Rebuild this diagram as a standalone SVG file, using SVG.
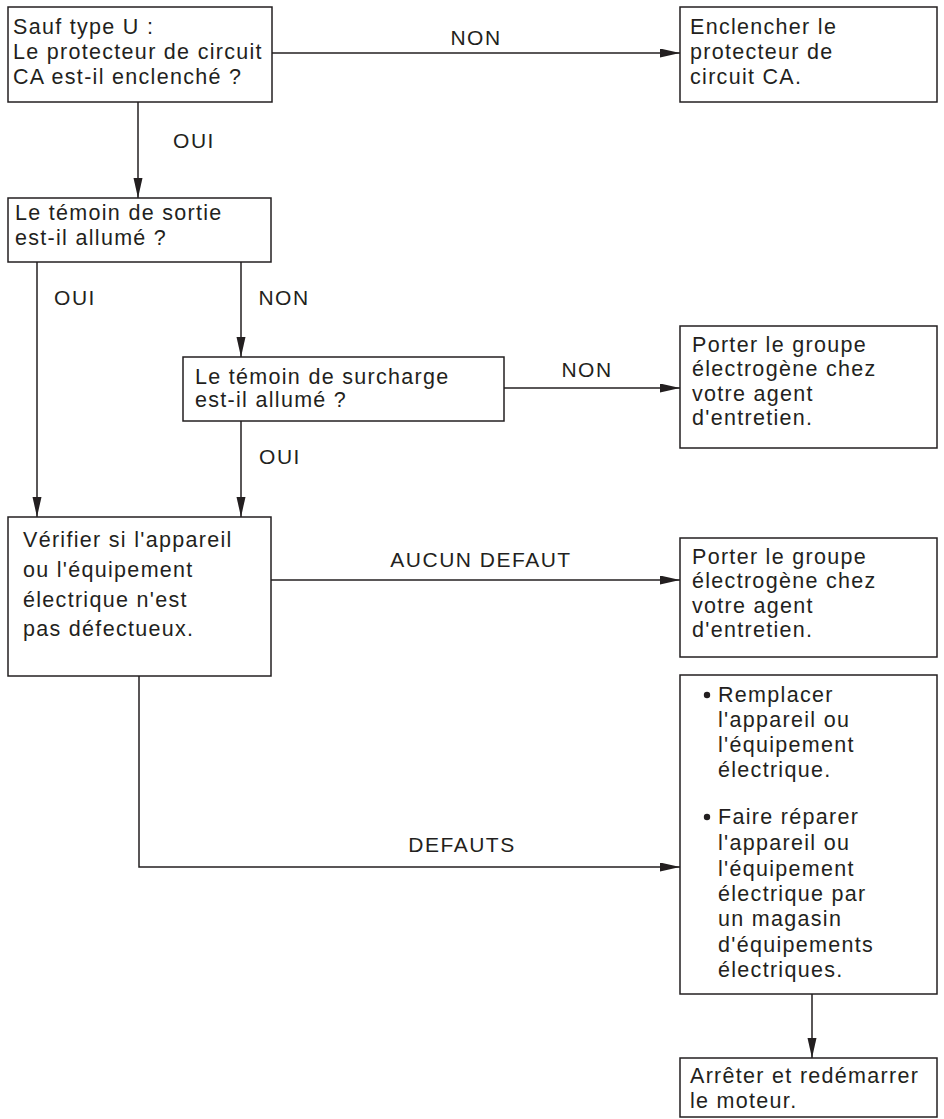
<svg xmlns="http://www.w3.org/2000/svg" width="944" height="1119" viewBox="0 0 944 1119">
<style>
  .box { fill: #ffffff; stroke: #231f20; stroke-width: 1.5; }
  .t { font-family: "Liberation Sans", Arial, sans-serif; font-size: 21.5px; letter-spacing: 1.3px; fill: #231f20; }
  .lbl { font-family: "Liberation Sans", Arial, sans-serif; font-size: 21px; letter-spacing: 1.5px; fill: #231f20; text-anchor: middle; }
  .c { fill: none; stroke: #231f20; stroke-width: 1.5; }
</style>
<defs>
  <marker id="ah" markerUnits="userSpaceOnUse" markerWidth="22" markerHeight="10" refX="20" refY="4.5" orient="auto">
    <path d="M0,0 L20,4.5 L0,9 z" fill="#231f20"/>
  </marker>
</defs>
<rect width="944" height="1119" fill="#ffffff"/>

<g id="connectors">
  <line class="c" x1="272" y1="53" x2="680" y2="53" marker-end="url(#ah)"/>
  <line class="c" x1="138" y1="102" x2="138" y2="198" marker-end="url(#ah)"/>
  <line class="c" x1="37" y1="262" x2="37" y2="517" marker-end="url(#ah)"/>
  <line class="c" x1="241" y1="262" x2="241" y2="357" marker-end="url(#ah)"/>
  <line class="c" x1="504" y1="388" x2="680" y2="388" marker-end="url(#ah)"/>
  <line class="c" x1="241" y1="421" x2="241" y2="517" marker-end="url(#ah)"/>
  <line class="c" x1="271" y1="580" x2="680" y2="580" marker-end="url(#ah)"/>
  <polyline class="c" points="139,676 139,867 680,867" marker-end="url(#ah)"/>
  <line class="c" x1="812" y1="994" x2="812" y2="1058" marker-end="url(#ah)"/>
  <text class="lbl" x="476" y="45">NON</text>
  <text class="lbl" x="194" y="148">OUI</text>
  <text class="lbl" x="75" y="305">OUI</text>
  <text class="lbl" x="284" y="305">NON</text>
  <text class="lbl" x="587" y="377">NON</text>
  <text class="lbl" x="280" y="464">OUI</text>
  <text class="lbl" x="481" y="567">AUCUN DEFAUT</text>
  <text class="lbl" x="462" y="852">DEFAUTS</text>
</g>

<g id="q-protecteur">
  <rect class="box" x="8" y="7" width="264" height="95"/>
  <text class="t" x="13" y="34">Sauf type U :</text>
  <text class="t" x="13" y="59">Le protecteur de circuit</text>
  <text class="t" x="13" y="84">CA est-il enclenché ?</text>
</g>

<g id="a-enclencher">
  <rect class="box" x="680" y="7" width="257" height="95"/>
  <text class="t" x="690" y="34">Enclencher le</text>
  <text class="t" x="690" y="59">protecteur de</text>
  <text class="t" x="690" y="84">circuit CA.</text>
</g>

<g id="q-sortie">
  <rect class="box" x="8" y="198" width="263" height="64"/>
  <text class="t" x="15" y="220">Le témoin de sortie</text>
  <text class="t" x="15" y="245">est-il allumé ?</text>
</g>

<g id="q-surcharge">
  <rect class="box" x="183" y="357" width="321" height="64"/>
  <text class="t" x="195" y="384">Le témoin de surcharge</text>
  <text class="t" x="195" y="407">est-il allumé ?</text>
</g>

<g id="a-agent-1">
  <rect class="box" x="680" y="326" width="257" height="122"/>
  <text class="t" x="692" y="352">Porter le groupe</text>
  <text class="t" x="692" y="376">électrogène chez</text>
  <text class="t" x="692" y="401">votre agent</text>
  <text class="t" x="692" y="425">d'entretien.</text>
</g>

<g id="q-verifier">
  <rect class="box" x="8" y="517" width="263" height="159"/>
  <text class="t" x="23" y="547">Vérifier si l'appareil</text>
  <text class="t" x="23" y="577">ou l'équipement</text>
  <text class="t" x="23" y="607">électrique n'est</text>
  <text class="t" x="23" y="636">pas défectueux.</text>
</g>

<g id="a-agent-2">
  <rect class="box" x="680" y="538" width="257" height="119"/>
  <text class="t" x="692" y="564">Porter le groupe</text>
  <text class="t" x="692" y="588">électrogène chez</text>
  <text class="t" x="692" y="613">votre agent</text>
  <text class="t" x="692" y="637">d'entretien.</text>
</g>

<g id="a-remplacer">
  <rect class="box" x="680" y="675" width="257" height="319"/>
  <circle cx="707" cy="695" r="3.2" fill="#231f20"/>
  <text class="t" x="718" y="702">Remplacer</text>
  <text class="t" x="718" y="727">l'appareil ou</text>
  <text class="t" x="718" y="752">l'équipement</text>
  <text class="t" x="718" y="777">électrique.</text>
  <circle cx="707" cy="817" r="3.2" fill="#231f20"/>
  <text class="t" x="718" y="824">Faire réparer</text>
  <text class="t" x="718" y="850">l'appareil ou</text>
  <text class="t" x="718" y="876">l'équipement</text>
  <text class="t" x="718" y="901">électrique par</text>
  <text class="t" x="718" y="926">un magasin</text>
  <text class="t" x="718" y="952">d'équipements</text>
  <text class="t" x="718" y="977">électriques.</text>
</g>

<g id="a-redemarrer">
  <rect class="box" x="680" y="1058" width="257" height="59"/>
  <text class="t" x="690" y="1083">Arrêter et redémarrer</text>
  <text class="t" x="690" y="1108">le moteur.</text>
</g>
</svg>
